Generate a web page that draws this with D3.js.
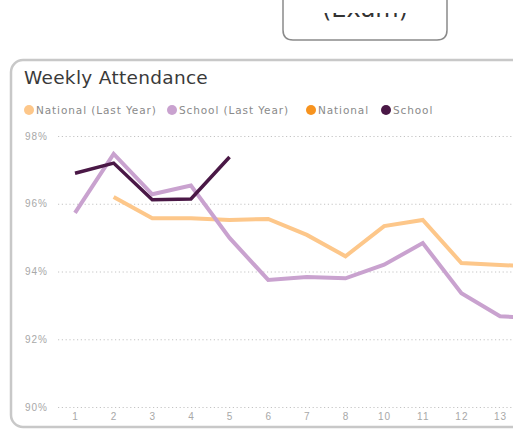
<html>
<head>
    <meta charset="UTF-8">
    <title>Weekly Attendance</title>
    <script src="https://cdn.jsdelivr.net/npm/d3@7"></script>
    <style>
        body { margin: 0; background: #fff; }
        svg { display: block; font-family: "DejaVu Sans", Verdana, sans-serif; }
        .axis path { stroke: none; }
        .axis--y line { stroke: #c4c4c4; stroke-dasharray: 1.2 2.6; }
        .axis--x line { stroke: none; }
        .axis text { font-size: 10px; fill: #a8a8a8; letter-spacing: 1px; }
        .series { fill: none; stroke-linejoin: miter; }
    </style>
</head>
<body>
    <svg width="513" height="429"></svg>
    <script>
        // week labels (week 9 is missing in the source, 14 runs off the right edge)
        var weeks = ['1', '2', '3', '4', '5', '6', '7', '8', '10', '11', '12', '13', '14'];
        var shownWeeks = weeks.slice(0, 12);
        var yTicks = [90, 92, 94, 96, 98];

        var nationalLastYear = [null, 96.2, 95.57, 95.57, 95.52, 95.55, 95.08, 94.45, 95.34, 95.52, 94.25, 94.19, 94.15];
        var schoolLastYear = [95.73, 97.47, 96.28, 96.54, 94.99, 93.75, 93.84, 93.8, 94.2, 94.84, 93.36, 92.68, 92.62];
        var national = [];
        var school = [96.9, 97.2, 96.12, 96.14, 97.38];

        var seriesNames = ['National (Last Year)', 'School (Last Year)', 'National', 'School'];
        var seriesColors = ['#fdc78a', '#c9a2cf', '#f7931e', '#4a1846'];

        var svg = d3.select('svg');

        // fragment of the button above the card, its top is hidden
        svg.append('clipPath').attr('id', 'topclip')
            .append('rect').attr('x', 0).attr('y', 13).attr('width', 513).attr('height', 40);
        var top_g = svg.append('g');
        top_g.append('path')
            .attr('d', 'M283,-2 L283,30 Q283,40 293,40 L437,40 Q447,40 447,30 L447,-2')
            .attr('fill', 'none').attr('stroke', '#8a8a8a').attr('stroke-width', 1.5);
        top_g.append('text')
            .attr('clip-path', 'url(#topclip)')
            .attr('x', 365).attr('y', 17)
            .attr('text-anchor', 'middle')
            .attr('font-size', 24)
            .attr('fill', '#333')
            .text('(Exam)');

        // card
        svg.append('rect')
            .attr('x', 11).attr('y', 60)
            .attr('width', 540).attr('height', 367)
            .attr('rx', 12)
            .attr('fill', '#fff').attr('stroke', '#c8c8c8').attr('stroke-width', 2.5);

        svg.append('text')
            .attr('x', 24).attr('y', 84)
            .attr('font-size', 18.5)
            .attr('letter-spacing', 0.3)
            .attr('fill', '#3a3a3a')
            .text('Weekly Attendance');

        // legend
        var legendX = [29, 172, 311, 386];
        var legend = svg.append('g').selectAll('g')
            .data(seriesNames)
            .enter().append('g')
            .attr('transform', (d, i) => 'translate(' + legendX[i] + ',110)');
        legend.append('circle').attr('r', 5).attr('fill', (d, i) => seriesColors[i]);
        legend.append('text')
            .attr('x', 7).attr('dy', '0.35em')
            .attr('font-size', 10.5).attr('fill', '#8a8a8a')
            .attr('letter-spacing', 0.9)
            .text(d => d);

        var x_scale = d3.scalePoint().domain(weeks).range([75, 75 + 38.64 * 12]);
        var y_scale = d3.scaleLinear().domain([90, 98]).range([407, 136]);

        svg.append('g')
            .attr('class', 'axis axis--y')
            .attr('transform', 'translate(58,0)')
            .call(d3.axisLeft(y_scale).tickValues(yTicks).tickSizeInner(-470).tickSizeOuter(0)
                .tickPadding(10).tickFormat(d => d + '%'));

        svg.append('g')
            .attr('class', 'axis axis--x')
            .attr('transform', 'translate(0,413)')
            .call(d3.axisBottom(x_scale).tickValues(shownWeeks).tickSize(0).tickPadding(0));

        var line = d3.line()
            .defined(d => d != null)
            .x((d, i) => x_scale(weeks[i]))
            .y(d => y_scale(d));

        var allSeries = [nationalLastYear, schoolLastYear, national, school];
        var widths = [4, 4, 4, 3.5];
        svg.append('g').selectAll('path')
            .data(allSeries)
            .enter().append('path')
            .attr('class', 'series')
            .attr('stroke', (d, i) => seriesColors[i])
            .attr('stroke-width', (d, i) => widths[i])
            .attr('d', d => line(d));
    </script>
</body>
</html>
